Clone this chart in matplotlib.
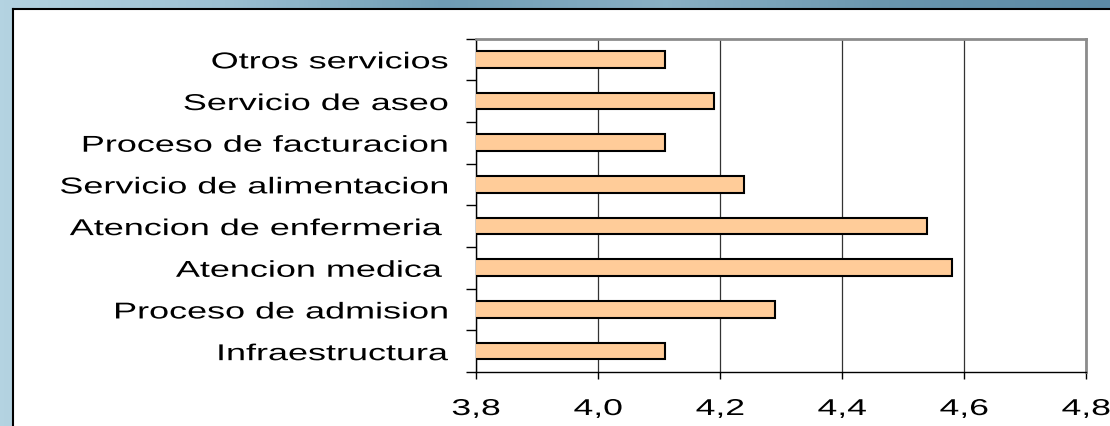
import matplotlib
matplotlib.use("Agg")
import matplotlib.pyplot as plt
import numpy as np
from matplotlib import patheffects
from matplotlib.colors import LinearSegmentedColormap
from matplotlib.transforms import Affine2D

categories = [
    "Infraestructura",
    "Proceso de admision",
    "Atencion medica ",
    "Atencion de enfermeria ",
    "Servicio de alimentacion",
    "Proceso de facturacion",
    "Servicio de aseo",
    "Otros servicios",
]
scores = [4.11, 4.29, 4.58, 4.54, 4.24, 4.11, 4.19, 4.11]
x_ticks = [3.8, 4.0, 4.2, 4.4, 4.6, 4.8]
x_tick_labels = ["3,8", "4,0", "4,2", "4,4", "4,6", "4,8"]


class StretchX(patheffects.AbstractPathEffect):
    """Widen glyphs horizontally (the source slide was stretched)."""

    def __init__(self, sx, anchor="center"):
        super().__init__()
        self.sx = sx
        self.anchor = anchor

    def draw_path(self, renderer, gc, tpath, affine, rgbFace=None):
        ext = tpath.get_extents(affine)
        x0 = {"left": ext.x0, "right": ext.x1, "center": 0.5 * (ext.x0 + ext.x1)}[self.anchor]
        stretch = Affine2D().translate(-x0, 0).scale(self.sx, 1).translate(x0, 0)
        renderer.draw_path(gc, tpath, affine + stretch, rgbFace)


plt.rcParams["font.family"] = ["Liberation Sans", "DejaVu Sans"]

W, H = 1110, 427
fig = plt.figure(figsize=(W / 100, H / 100), dpi=100)

# slide background
bg = fig.add_axes([0, 0, 1, 1])
bg.axis("off")
slide = LinearSegmentedColormap.from_list(
    "slide", ["#b4d3e1", "#9cc0d2", "#6f9cb5", "#8ab0c4", "#6a96ae", "#5c8aa5"]
)
bg.imshow(np.linspace(0, 1, 256)[None, :], aspect="auto", cmap=slide, extent=[0, 1, 0, 1])

# white chart panel
panel = fig.add_axes([13 / W, 0, 1, (H - 10) / H])
panel.set_xticks([])
panel.set_yticks([])
panel.set_facecolor("white")
for side in ["right", "bottom"]:
    panel.spines[side].set_visible(False)
for side in ["left", "top"]:
    panel.spines[side].set_linewidth(1.5)

ax = fig.add_axes([476 / W, 1 - 373 / H, (1086 - 476) / W, (373 - 39.5) / H])
ypos = np.arange(len(categories))
ax.barh(ypos, scores, height=0.4, color="#ffcc99", edgecolor="black", linewidth=1.5, zorder=3)
ax.set_xlim(3.8, 4.8)
ax.set_ylim(-0.5, len(categories) - 0.5)

ax.set_xticks(x_ticks, x_tick_labels)
ax.set_yticks(ypos, categories)
ax.set_yticks(np.arange(-0.5, len(categories), 1), minor=True)
ax.tick_params(axis="y", which="major", length=0, pad=20, labelsize=16.5)
ax.tick_params(axis="y", which="minor", length=7, width=1, direction="out")
ax.tick_params(axis="x", length=5, width=1, pad=13, labelsize=16.5)
ax.grid(axis="x", color="#333333", linewidth=0.9)

for side in ["top", "right"]:
    ax.spines[side].set_color("#8c8c8c")
    ax.spines[side].set_linewidth(2)
for side in ["left", "bottom"]:
    ax.spines[side].set_color("black")
    ax.spines[side].set_linewidth(1)

for lab in ax.get_yticklabels():
    lab.set_path_effects([StretchX(1.57, "right")])
for lab in ax.get_xticklabels():
    lab.set_path_effects([StretchX(1.55, "center")])

fig.savefig("out.png", dpi=100)
